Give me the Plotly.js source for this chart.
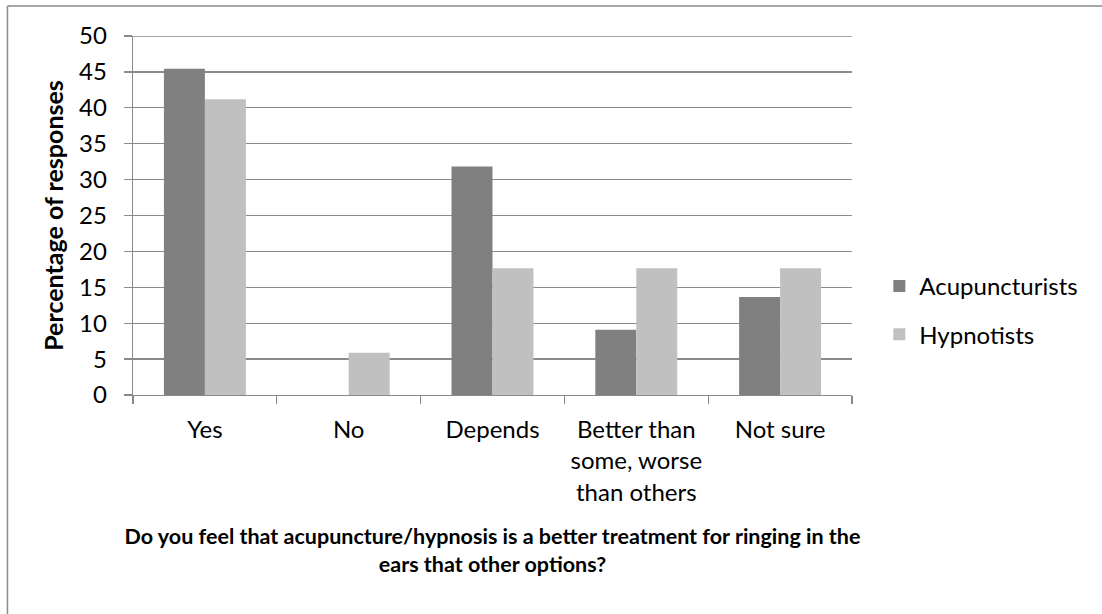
<!DOCTYPE html>
<html>
<head>
<meta charset="utf-8">
<script src="https://cdn.plot.ly/plotly-3.0.1.min.js"></script>
<style>
html,body{margin:0;padding:0;background:#fff;}
#chart{width:1102px;height:614px;}
</style>
</head>
<body>
<div id="chart"></div>
<script>
const categories = ["Yes", "No", "Depends", "Better than<br>some, worse<br>than others", "Not sure"];
const acupuncturists = [45.45, 0, 31.82, 9.09, 13.64];
const hypnotists = [41.18, 5.88, 17.65, 17.65, 17.65];
const yTicks = [0, 5, 10, 15, 20, 25, 30, 35, 40, 45, 50];

const FONT = "Lato, 'Open Sans', sans-serif";
const GRID = "#8a8a8a";

const traces = [
  {type: "bar", name: "Acupuncturists", x: categories, y: acupuncturists,
   marker: {color: "#808080"}, legendgroup: "a"},
  {type: "bar", name: "Hypnotists", x: categories, y: hypnotists,
   marker: {color: "#c0c0c0"}, legendgroup: "b"}
];

const layout = {
  width: 1102, height: 614,
  margin: {l: 133, r: 250, t: 36, b: 219},
  paper_bgcolor: "#fff", plot_bgcolor: "#fff",
  font: {family: FONT, size: 24, color: "#000"},
  barmode: "group",
  bargap: 0.43,
  bargroupgap: 0,
  showlegend: true,
  legend: {x: 1.038, xanchor: "left", y: 0.365, yanchor: "top",
           traceorder: "grouped", tracegroupgap: 14,
           font: {family: FONT, size: 24, color: "#000"}},
  xaxis: {
    type: "category",
    showline: true, linecolor: GRID, linewidth: 1.3,
    ticks: "outside", ticklen: 8, tickcolor: GRID, tickwidth: 1.3,
    tickson: "boundaries",
    showgrid: false,
    ticklabelstandoff: 13,
    tickfont: {family: FONT, size: 24, color: "#000"},
    title: {text: "<b>Do you feel that acupuncture/hypnosis is a better treatment for ringing in the<br>ears that other options?</b>",
            font: {family: FONT, size: 21.5, color: "#000"}, standoff: 24}
  },
  yaxis: {
    range: [0, 50],
    tickvals: yTicks,
    showline: true, linecolor: GRID, linewidth: 1.3,
    ticks: "outside", ticklen: 8, tickcolor: GRID, tickwidth: 1.3,
    showgrid: true, gridcolor: GRID, gridwidth: 1.3,
    zeroline: false,
    ticklabelstandoff: 12,
    tickfont: {family: FONT, size: 24, color: "#000"},
    title: {text: "<b>Percentage of responses</b>",
            font: {family: FONT, size: 25, color: "#000"}, standoff: 8}
  },
  shapes: [
    {type: "line", xref: "paper", yref: "y",
     x0: 0, x1: 1, y0: 50, y1: 50,
     line: {color: GRID, width: 1.3}},
    {type: "line", xref: "paper", yref: "paper",
     x0: -0.1746, x1: -0.1746, y0: 1.0836, y1: -0.7,
     line: {color: "#8a8a8a", width: 1.5}},
    {type: "line", xref: "paper", yref: "paper",
     x0: -0.1746, x1: 1.4, y0: 1.0836, y1: 1.0836,
     line: {color: "#8a8a8a", width: 1.5}}
  ]
};

Plotly.newPlot("chart", traces, layout, {displayModeBar: false, staticPlot: true});
</script>
</body>
</html>
